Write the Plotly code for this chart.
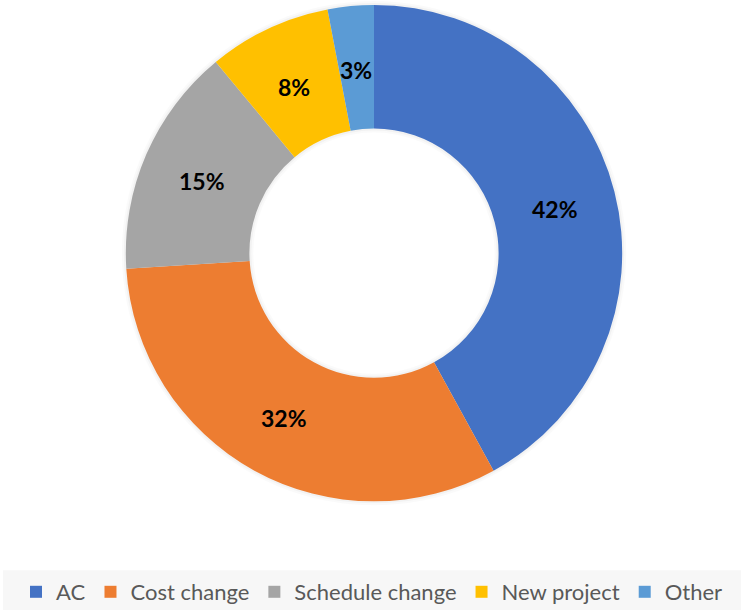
import math
import plotly.graph_objects as go

categories = ["AC", "Cost change", "Schedule change", "New project", "Other"]
shares = [42, 32, 15, 8, 3]
colors = ["#4472C4", "#ED7D31", "#A5A5A5", "#FFC000", "#5B9BD5"]

W, H = 741, 613
cx, cy, r = 374, 254, 249
hole_r = 125

def dom(cx, cy, r):
    return dict(x=[(cx - r) / W, (cx + r) / W], y=[1 - (cy + r) / H, 1 - (cy - r) / H])

fig = go.Figure()

# soft shadow rings behind the donut
for i, (dr, a) in enumerate([(4, 0.02), (2, 0.03)]):
    rr = r + dr
    fig.add_trace(go.Pie(
        values=[1], labels=["s%d" % i], domain=dom(cx, cy, rr),
        hole=(hole_r - dr) / rr, marker=dict(colors=["rgba(0,0,0,%g)" % a], line=dict(width=0)),
        textinfo="none", hoverinfo="skip", showlegend=False, sort=False,
    ))

fig.add_trace(go.Pie(
    labels=categories, values=shares, domain=dom(cx, cy, r),
    hole=hole_r / r, sort=False, direction="clockwise", rotation=0,
    marker=dict(colors=colors, line=dict(width=0)),
    textinfo="none", showlegend=True,
))

# percentage labels centred in the middle of each ring segment
total = sum(shares)
mid_r = (r + hole_r) / 2
cum = 0
for v in shares:
    ang = 2 * math.pi * (cum + v / 2) / total
    cum += v
    px = cx + mid_r * math.sin(ang)
    py = cy - mid_r * math.cos(ang) + 2
    fig.add_annotation(
        x=px / W, y=1 - py / H, xref="paper", yref="paper",
        text="<b>%d%%</b>" % round(100 * v / total), showarrow=False,
        xanchor="center", yanchor="middle",
        font=dict(family="Lato, sans-serif", size=23, color="#000000"),
    )

fig.add_shape(type="rect", xref="paper", yref="paper",
              x0=3 / W, x1=1, y0=1 - 612 / H, y1=1 - 572 / H,
              fillcolor="#F7F7F7", line=dict(width=0), layer="below")

fig.update_layout(
    width=W, height=H, margin=dict(l=0, r=0, t=0, b=0),
    paper_bgcolor="white", plot_bgcolor="white",
    legend=dict(orientation="h", x=16 / W, y=1 - 594 / H, yanchor="middle", xanchor="left",
                font=dict(family="Lato, sans-serif", size=22, color="#595959"),
                bgcolor="rgba(0,0,0,0)", itemwidth=30, tracegroupgap=0),
)

fig.write_html("out.html")
